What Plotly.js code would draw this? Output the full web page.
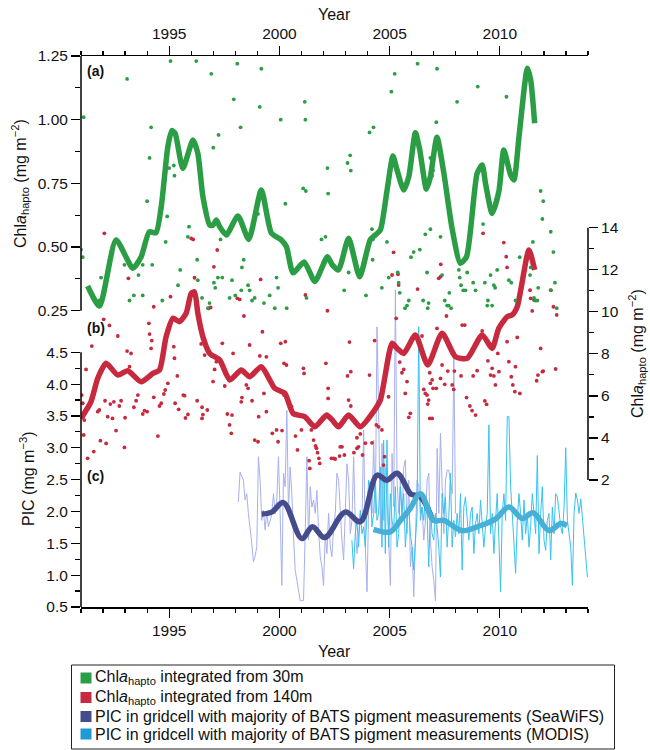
<!DOCTYPE html>
<html><head><meta charset="utf-8">
<script src="https://cdn.plot.ly/plotly-3.0.1.min.js"></script>
<style>html,body{margin:0;padding:0;background:#fff}</style>
</head><body><div id="chart" style="width:650px;height:750px"></div>
<script>
// ---------- Panel (a): Chla_hapto integrated from 30 m ----------
const greenTrendYear = [1991.30,1991.84,1992.59,1993.35,1993.73,1994.10,1994.40,1994.64,1994.94,1995.12,1995.27,1995.62,1996.08,1996.30,1996.53,1996.84,1996.99,1997.14,1997.29,1997.59,1998.12,1998.61,1999.18,1999.64,2000.09,2000.32,2000.62,2001.12,2001.61,2002.18,2002.40,2002.68,2003.14,2003.64,2004.12,2004.35,2004.58,2004.88,2005.15,2005.34,2005.64,2005.87,2006.17,2006.37,2006.67,2006.85,2007.15,2007.46,2007.84,2008.21,2008.49,2008.97,2009.20,2009.35,2009.65,2009.96,2010.18,2010.49,2010.64,2010.87,2011.25,2011.40,2011.58];
const greenTrendVal  = [0.347,0.268,0.528,0.417,0.462,0.560,0.556,0.658,0.894,0.957,0.946,0.809,0.920,0.868,0.698,0.586,0.586,0.606,0.580,0.547,0.622,0.530,0.724,0.554,0.528,0.501,0.399,0.441,0.365,0.462,0.430,0.410,0.534,0.383,0.528,0.547,0.567,0.720,0.857,0.802,0.724,0.776,0.949,0.880,0.727,0.776,0.931,0.790,0.570,0.436,0.462,0.789,0.822,0.750,0.632,0.720,0.881,0.783,0.763,0.933,1.202,1.156,0.986];
const greenDotYear = [1991.12,1991.00,1991.08,1991.91,1991.83,1993.09,1992.97,1993.20,1993.40,1993.61,1993.80,1993.80,1993.88,1994.00,1994.11,1994.18,1994.23,1994.69,1994.84,1994.91,1995.00,1995.06,1995.21,1995.24,1995.40,1995.50,1995.85,1995.90,1996.23,1996.27,1996.30,1996.49,1996.76,1996.83,1996.91,1997.00,1997.03,1997.09,1997.21,1997.24,1997.33,1997.41,1997.74,1997.85,1997.93,1998.00,1998.09,1998.24,1998.27,1998.30,1998.38,1998.58,1998.65,1998.76,1998.88,1999.03,1999.11,1999.18,1999.30,1999.56,1999.79,1999.87,1999.94,2000.06,2000.27,2000.33,2001.08,2001.15,2001.18,2001.20,2001.23,2001.91,2002.09,2002.18,2002.21,
 2002.94,2003.09,2003.14,2003.21,2003.24,2003.93,2004.09,2004.20,2004.23,2004.24,2004.27,2004.65,2004.88,2004.96,2005.08,2005.23,2005.37,2005.41,2005.46,2005.70,2005.79,2005.87,2005.97,2006.09,2006.27,2006.37,2006.52,2006.62,2006.70,2006.73,2006.77,2006.85,2006.85,2006.93,2006.97,2007.12,2007.15,2007.31,2007.38,2007.50,2007.61,2007.68,2007.71,2007.79,2008.06,2008.14,2008.18,2008.24,2008.34,2008.44,2008.52,2008.79,2008.90,2009.00,2009.24,2009.32,2009.43,2009.46,2009.58,2009.65,2009.73,2009.79,2009.88,2010.30,2010.41,2010.52,2010.71,2010.90,2011.37,2011.40,2011.50,2011.55,2011.62,2011.70,2011.74,2011.85,2011.93,2011.97,2012.31,2012.32,2012.43,2012.50,2012.58];
const greenDotVal = [1.01,0.49,0.46,0.38,0.29,1.16,0.43,0.29,0.31,0.39,0.31,0.43,0.50,0.68,0.85,0.97,0.43,0.29,0.52,0.62,0.81,1.23,0.82,0.78,0.35,0.41,0.54,0.58,1.23,0.45,0.37,0.30,0.26,0.28,1.18,0.89,0.36,0.34,0.38,0.94,0.53,0.38,0.30,0.37,1.08,0.31,1.22,0.97,0.33,0.42,0.45,0.35,0.33,0.29,0.30,0.63,1.05,1.20,0.28,0.31,0.26,0.38,0.34,1.00,0.67,0.26,0.73,1.07,1.00,0.72,0.30,0.53,0.54,0.81,0.71,
 0.33,0.83,0.40,0.86,0.80,0.31,0.95,0.57,0.45,0.53,0.97,0.34,0.52,0.38,1.11,1.18,0.40,0.36,0.32,0.26,0.27,0.29,0.46,0.48,1.22,0.49,0.29,0.55,0.40,0.26,0.28,0.57,0.85,0.78,0.80,0.99,1.20,0.54,0.39,0.29,0.27,0.27,0.32,0.26,1.07,0.41,0.38,0.35,0.33,0.33,0.40,0.36,0.33,1.13,0.59,0.36,0.27,0.29,0.39,0.27,0.35,0.34,0.41,1.09,0.37,0.36,0.29,0.46,0.39,0.42,0.52,0.30,0.29,0.29,0.34,0.72,0.61,0.68,0.56,0.33,0.48,0.36,0.26];

// ---------- Panel (b): Chla_hapto integrated from 140 m ----------
const redTrendYear = [1991.00,1991.45,1991.76,1992.14,1992.67,1993.12,1993.73,1994.26,1994.56,1994.86,1995.17,1995.47,1995.77,1996.00,1996.15,1996.30,1996.53,1996.84,1997.29,1997.75,1998.27,1998.65,1999.18,1999.79,2000.25,2000.62,2001.15,2001.61,2002.14,2002.40,2002.68,2003.14,2003.67,2004.27,2004.58,2005.11,2005.34,2005.64,2006.17,2006.73,2007.38,2007.99,2008.52,2009.20,2009.65,2009.95,2010.34,2010.56,2010.79,2011.32,2011.58];
const redTrendVal  = [4.93,5.72,6.84,7.55,6.99,7.20,6.67,7.07,7.23,8.81,9.69,9.53,9.93,10.88,10.95,9.93,8.81,8.02,7.71,6.76,7.23,6.91,7.39,6.36,6.12,5.17,5.01,4.53,5.09,4.85,4.53,5.09,4.53,5.25,5.80,8.50,8.26,8.02,8.90,7.47,8.98,7.86,7.79,8.90,8.26,9.21,9.77,9.85,10.24,12.94,11.99];
const redDotYear = [1992.06,1991.03,1991.08,1991.15,1991.23,1991.12,1991.30,1991.49,1991.58,1991.88,1991.76,1991.83,1992.03,1992.14,1992.21,1992.29,1992.09,1992.33,1992.43,1992.49,1992.59,1992.67,1992.74,1992.82,1993.00,1992.97,1993.09,1993.15,1993.20,1993.27,1993.40,1993.50,1993.58,1993.80,1993.88,1994.00,1994.08,1994.11,1994.18,1994.21,1994.30,1994.30,1994.49,1994.56,1994.64,1994.76,1994.82,1994.94,1995.06,1995.21,1995.24,1995.27,1995.37,1995.43,1995.64,1995.70,1995.74,1995.85,1996.00,1996.09,1996.15,1996.27,1996.45,1996.49,1996.49,1996.53,1996.61,1996.73,1996.79,1996.88,1996.99,1997.03,1997.06,1997.14,1997.18,1997.41,1997.52,1997.64,1997.74,1997.82,1997.85,1997.90,1998.09,1998.20,1998.27,1998.30,1998.39,1998.50,1998.58,1998.65,1998.76,1998.88,1999.03,1999.06,1999.11,1999.15,1999.23,1999.30,1999.41,1999.41,1999.68,1999.87,1999.94,2000.06,2000.12,2000.21,2000.21,2000.27,2000.32,2000.55,2000.73,2000.82,2001.00,2001.12,2001.09,2001.18,2001.35,2001.38,2001.45,2001.55,2001.64,2001.68,2001.73,2001.79,2001.83,2002.11,2002.18,2002.21,2002.21,2002.36,
 2002.53,2002.76,2002.84,2002.95,2003.38,2003.52,2003.59,2003.67,2003.77,2003.90,2004.20,2004.50,2004.65,2004.77,2004.73,2004.95,2002.46,2002.73,2003.52,2004.40,
 2003.18,2003.09,2003.24,2003.14,2003.24,2004.09,2004.32,2005.18,2005.11,2005.38,2005.41,2005.30,2005.46,2005.56,2005.64,2005.79,2005.71,2005.94,2005.87,2006.27,2006.47,2006.82,2006.93,2006.85,2006.97,2006.55,2006.62,2006.70,2006.77,2006.73,2006.82,2006.93,2007.12,2007.15,2007.23,2007.31,2007.32,2007.38,2007.31,2007.50,2007.58,2007.64,2007.91,2007.84,2007.94,2008.24,2008.29,2008.41,2008.49,2008.64,2008.74,2008.90,2008.79,2008.97,2009.24,2009.20,2009.32,2009.40,2009.46,2009.58,2009.65,2009.73,2009.80,2009.91,2009.96,2010.18,2010.29,2010.33,2010.33,2010.41,2010.52,2010.59,2010.68,2010.71,2010.79,2010.91,2011.37,2011.40,2011.47,2011.55,2011.85,2011.67,2011.73,2011.93,2011.97,2012.31,2012.43,2012.53,2012.58];
const redDotVal = [13.73,6.04,5.65,4.85,7.26,4.14,3.03,8.37,3.35,3.87,5.25,5.33,9.64,3.74,5.01,9.35,5.77,5.61,4.93,5.72,4.35,8.85,5.52,5.77,4.96,3.55,8.13,11.59,7.39,8.02,5.46,5.77,6.04,5.14,5.30,5.25,9.45,8.94,8.26,8.63,10.24,5.93,4.09,5.52,5.65,6.09,6.28,6.60,10.72,8.34,7.79,5.65,6.95,5.36,6.04,6.01,4.95,5.12,13.49,13.44,11.62,5.77,8.47,5.46,4.93,5.11,7.94,5.33,10.16,10.21,6.68,12.14,7.26,7.63,12.94,8.50,6.47,5.14,4.62,4.22,5.09,8.02,10.64,10.59,5.72,5.92,9.80,6.52,6.36,8.42,5.77,3.90,3.82,5.01,7.90,11.54,9.05,6.12,7.86,5.25,4.22,4.38,3.82,8.50,4.35,6.04,7.55,8.58,7.47,5.49,4.09,3.43,4.38,7.07,7.31,10.80,2.92,2.55,4.38,3.90,3.62,3.51,3.30,3.03,2.79,7.55,10.05,5.88,6.36,3.03,
 3.00,3.58,3.58,3.19,3.30,3.51,3.58,4.19,3.19,3.75,3.77,4.53,4.38,3.11,2.71,5.96,3.03,3.14,4.01,4.62,
 8.56,6.95,7.15,5.80,5.52,6.99,8.63,12.83,11.75,11.78,11.27,9.69,7.61,7.10,7.26,6.68,6.12,5.17,4.98,11.08,8.85,7.10,6.76,6.60,6.36,6.31,6.12,6.04,5.80,5.61,4.93,4.93,6.36,9.21,11.59,11.67,12.26,7.47,6.83,6.55,9.80,7.18,6.31,6.52,7.18,6.95,9.37,9.37,5.92,5.52,5.30,5.09,6.95,7.20,13.73,9.09,5.76,5.60,7.67,6.99,7.31,6.95,6.52,8.02,7.15,13.29,12.62,12.11,8.58,7.63,6.91,6.52,6.20,7.39,8.78,6.12,11.03,10.64,10.04,10.56,8.26,6.72,6.99,7.15,7.18,11.03,10.24,7.28,9.85];

// ---------- Panel (c): PIC ----------
const seawifsTrendYear = [1999.20,1999.65,2000.18,2001.02,2001.50,2002.05,2002.99,2003.67,2004.43,2004.88,2005.34,2005.94,2006.09,2006.40,2006.93];
const seawifsTrendVal  = [1.96,1.99,2.14,1.575,1.76,1.59,1.99,1.84,2.57,2.49,2.60,2.28,2.26,2.23,1.89];
const modisTrendYear = [2004.27,2005.03,2005.49,2005.94,2006.40,2007.00,2007.45,2008.29,2008.97,2009.80,2010.41,2011.02,2011.50,2012.23,2012.76,2013.05];
const modisTrendVal  = [1.72,1.68,1.86,2.05,2.28,1.86,1.86,1.70,1.76,1.88,2.07,1.89,1.98,1.70,1.81,1.78];
// thin raw series, evenly sampled between first and last year
const seawifsRawStart = 1998.14, seawifsRawEnd = 2007.99;
const seawifsRaw = [2.15,2.62,2.55,2.49,2.18,2.28,1.97,1.75,1.50,1.21,1.30,1.44,2.86,2.49,1.86,2.02,1.71,1.97,1.76,1.85,1.97,2.28,1.97,2.20,2.86,1.97,0.84,2.60,2.39,3.59,1.97,2.70,2.28,1.60,1.08,0.92,0.75,0.60,0.60,0.60,1.65,2.86,1.55,2.39,2.07,2.18,1.97,2.33,1.71,1.29,1.13,0.84,1.65,1.34,1.97,1.44,1.29,1.76,1.97,2.60,2.49,1.97,1.55,1.24,1.97,2.75,2.49,1.65,1.86,2.86,1.76,1.34,1.65,1.97,1.86,3.28,1.44,0.74,2.07,2.39,1.97,3.12,1.97,4.90,3.54,1.65,3.07,1.86,2.70,1.97,1.55,0.84,2.91,2.07,5.48,2.49,1.97,
 2.49,1.86,2.70,2.81,1.65,2.49,1.13,1.44,0.66,1.65,2.49,2.39,1.97,2.07,1.55,1.86,2.49,2.60,1.55,1.13,0.92,0.60,2.99,1.97,3.23,2.39,1.65,2.49,2.65,2.65,2.49,2.28,4.43,1.97];
const modisRawStart = 2003.29, modisRawEnd = 2014.05;
const modisRaw = [1.55,1.10,1.65,1.86,1.44,2.02,1.65,1.76,1.44,1.97,2.49,2.39,1.76,1.97,2.49,1.86,1.97,2.70,1.44,3.12,1.34,3.12,1.44,2.28,1.86,1.71,2.39,1.44,1.65,
 2.39,1.97,2.28,1.44,1.86,2.07,1.65,1.44,1.08,1.65,1.97,4.90,1.86,2.07,1.86,2.23,1.97,1.13,2.07,1.65,1.55,1.97,1.76,1.44,0.97,2.28,1.97,2.23,1.44,1.92,2.60,1.44,1.86,1.60,1.97,1.65,2.28,1.08,2.07,2.23,1.86,1.55,1.97,2.07,1.34,1.81,1.97,1.65,2.18,1.86,1.44,1.76,1.97,3.36,1.65,1.97,1.34,1.86,2.28,1.55,0.74,1.97,2.28,1.86,3.49,3.49,2.39,1.97,1.44,1.03,1.86,2.28,1.97,1.55,2.18,1.65,1.97,1.44,1.76,2.28,1.97,1.65,2.88,1.34,1.97,2.39,1.55,1.39,1.86,1.97,1.24,2.07,1.65,2.28,2.23,1.97,1.76,1.65,2.07,3.00,1.86,1.65,1.44,0.84,1.97,2.29,2.18,1.97,2.20,1.90,1.60,1.20,0.97,1.08];

// ---------- Axis ticks ----------
const yearTicks = [1995,2000,2005,2010];
const yearMinor = [1991,1992,1993,1994,1996,1997,1998,1999,2001,2002,2003,2004,2006,2007,2008,2009,2011,2012,2013,2014];
const aTicks = [0.25,0.50,0.75,1.00,1.25], aTickText = ['0.25','0.50','0.75','1.00','1.25'], aMinor = [0.375,0.625,0.875,1.125];
const bTicks = [2,4,6,8,10,12,14], bMinor = [3,5,7,9,11,13];
const cTicks = [0.5,1.0,1.5,2.0,2.5,3.0,3.5,4.0,4.5], cTickText = ['0.5','1.0','1.5','2.0','2.5','3.0','3.5','4.0','4.5'], cMinor = [0.75,1.25,1.75,2.25,2.75,3.25,3.75,4.25];

// ---------- Legend (drawn as a boxed key below the plot) ----------
const legendNames = [
 'Chl<i>a</i><sub>hapto</sub> integrated from 30m',
 'Chl<i>a</i><sub>hapto</sub> integrated from 140m',
 'PIC in gridcell with majority of BATS pigment measurements (SeaWiFS)',
 'PIC in gridcell with majority of BATS pigment measurements (MODIS)'];
const legendColors = ['#2a9d45','#c72a3e','#444c8c','#1f9bd3'];

const C = {green:'#2a9d45', red:'#c72a3e', navy:'#444c8c', sky:'#46b0d6', lav:'#a7b0ee', cyan:'#37c2ef'};

function spread(start, end, n){ const s=(end-start)/(n-1); const o=[]; for(let i=0;i<n;i++) o.push(start+i*s); return o; }

const traces = [
 {x: spread(seawifsRawStart, seawifsRawEnd, seawifsRaw.length), y: seawifsRaw, mode:'lines', line:{color:C.lav,width:1}, xaxis:'x', yaxis:'y', hoverinfo:'skip'},
 {x: spread(modisRawStart, modisRawEnd, modisRaw.length), y: modisRaw, mode:'lines', line:{color:C.cyan,width:1}, xaxis:'x', yaxis:'y', hoverinfo:'skip'},
 {x: seawifsTrendYear, y: seawifsTrendVal, mode:'lines', line:{color:C.navy,width:5.5,shape:'spline',smoothing:1}, xaxis:'x', yaxis:'y'},
 {x: modisTrendYear, y: modisTrendVal, mode:'lines', line:{color:C.sky,width:5.5,shape:'spline',smoothing:1}, xaxis:'x', yaxis:'y'},
 {x: greenDotYear, y: greenDotVal, mode:'markers', marker:{color:C.green,size:3.8}, xaxis:'x2', yaxis:'y2'},
 {x: greenTrendYear, y: greenTrendVal, mode:'lines', line:{color:C.green,width:5.5,shape:'spline',smoothing:0.6}, xaxis:'x2', yaxis:'y2'},
 {x: redDotYear, y: redDotVal, mode:'markers', marker:{color:C.red,size:3.8}, xaxis:'x', yaxis:'y3'},
 {x: redTrendYear, y: redTrendVal, mode:'lines', line:{color:C.red,width:5.5,shape:'spline',smoothing:0.6}, xaxis:'x', yaxis:'y3'}
];

const F = 'Liberation Sans, Arial, sans-serif';
const tickBase = {ticks:'outside', ticklen:9, tickwidth:1.2, tickcolor:'#000', showgrid:false, zeroline:false, tickfont:{family:F,size:15.5,color:'#111'}};
const xRange = [1991, 2014];
const minorX = {tickmode:'array', tickvals:yearMinor, ticks:'outside', ticklen:4, tickwidth:1.2, tickcolor:'#000'};

// page geometry helpers (plot box 81..588 x 56..607 px)
const PL=81, PT=56, PW=507, PH=551;
const px = v => (v-PL)/PW, py = v => (PT+PH-v)/PH;

const shapes = [
  {type:'line', xref:'paper', yref:'y2', x0:0, x1:0, y0:aTicks[0], y1:aTicks[aTicks.length-1], line:{color:'#000',width:1.5}},
  {type:'line', xref:'paper', yref:'y', x0:0, x1:0, y0:cTicks[0], y1:cTicks[cTicks.length-1], line:{color:'#000',width:1.5}},
  {type:'line', xref:'paper', yref:'y3', x0:1, x1:1, y0:bTicks[0], y1:bTicks[bTicks.length-1], line:{color:'#000',width:1.5}},
  {type:'rect', xref:'paper', yref:'paper', x0:px(71.5), x1:px(614.5), y0:py(749), y1:py(665), line:{color:'#222',width:1}, fillcolor:'rgba(0,0,0,0)'}
];
const rowY = [678, 697.5, 716.5, 734];
const annotations = [
  {text:'Year', xref:'paper', yref:'paper', x:0.5, y:py(14), showarrow:false, font:{size:16,family:F}, xanchor:'center', yanchor:'middle'},
  {text:'Year', xref:'paper', yref:'paper', x:0.5, y:py(651), showarrow:false, font:{size:16,family:F}, xanchor:'center', yanchor:'middle'},
  {text:'Chl<i>a</i><sub>hapto</sub> (mg m<sup>−2</sup>)', xref:'paper', yref:'paper', x:px(20), y:py(184), textangle:-90, showarrow:false, xanchor:'center', yanchor:'middle', font:{size:16,family:F}},
  {text:'PIC (mg m<sup>−3</sup>)', xref:'paper', yref:'paper', x:px(27), y:py(479), textangle:-90, showarrow:false, xanchor:'center', yanchor:'middle', font:{size:16,family:F}},
  {text:'Chl<i>a</i><sub>hapto</sub> (mg m<sup>−2</sup>)', xref:'paper', yref:'paper', x:px(637), y:py(354), textangle:-90, showarrow:false, xanchor:'center', yanchor:'middle', font:{size:16,family:F}},
  {text:'<b>(a)</b>', xref:'paper', yref:'paper', x:px(85), y:py(71), xanchor:'left', yanchor:'middle', showarrow:false, font:{size:14,family:F}},
  {text:'<b>(b)</b>', xref:'paper', yref:'paper', x:px(85), y:py(328), xanchor:'left', yanchor:'middle', showarrow:false, font:{size:14,family:F}},
  {text:'<b>(c)</b>', xref:'paper', yref:'paper', x:px(85), y:py(476), xanchor:'left', yanchor:'middle', showarrow:false, font:{size:14,family:F}}
];
legendNames.forEach((name, i) => {
  shapes.push({type:'rect', xref:'paper', yref:'paper', x0:px(80.5), x1:px(91.5), y0:py(rowY[i]+5.5), y1:py(rowY[i]-5.5), line:{width:0}, fillcolor:legendColors[i]});
  annotations.push({text:name, xref:'paper', yref:'paper', x:px(92.5), y:py(rowY[i]), xanchor:'left', yanchor:'middle', showarrow:false, font:{size:16,family:F,color:'#111'}});
});

const layout = {
 width:650, height:750, paper_bgcolor:'#fff', plot_bgcolor:'rgba(0,0,0,0)',
 margin:{l:PL, r:650-PL-PW, t:PT, b:750-PT-PH},
 font:{family:F, color:'#111'},
 showlegend:false,
 xaxis: Object.assign({}, tickBase, {range:xRange, side:'bottom', anchor:'y', showline:true, linewidth:1.5, linecolor:'#000', tickmode:'array', tickvals:yearTicks, minor:minorX}),
 xaxis2: Object.assign({}, tickBase, {range:xRange, side:'top', overlaying:'x', anchor:'y2', showline:true, linewidth:1.5, linecolor:'#000', tickmode:'array', tickvals:yearTicks, minor:minorX}),
 yaxis: Object.assign({}, tickBase, {range:[0.5, 9.153], side:'left', anchor:'x', showline:false, tickmode:'array', tickvals:cTicks, ticktext:cTickText, minor:{tickmode:'array', tickvals:cMinor, ticks:'outside', ticklen:5, tickwidth:1.2, tickcolor:'#000'}}),
 yaxis2: Object.assign({}, tickBase, {range:[-0.9133, 1.25], side:'left', overlaying:'y', anchor:'x', showline:false, tickmode:'array', tickvals:aTicks, ticktext:aTickText, minor:{tickmode:'array', tickvals:aMinor, ticks:'outside', ticklen:5, tickwidth:1.2, tickcolor:'#000'}}),
 yaxis3: Object.assign({}, tickBase, {range:[-4.04, 22.166], side:'right', overlaying:'y', anchor:'x', showline:false, tickmode:'array', tickvals:bTicks, minor:{tickmode:'array', tickvals:bMinor, ticks:'outside', ticklen:5, tickwidth:1.2, tickcolor:'#000'}}),
 shapes: shapes,
 annotations: annotations
};

Plotly.newPlot('chart', traces, layout, {displayModeBar:false, staticPlot:true});
</script></body></html>
